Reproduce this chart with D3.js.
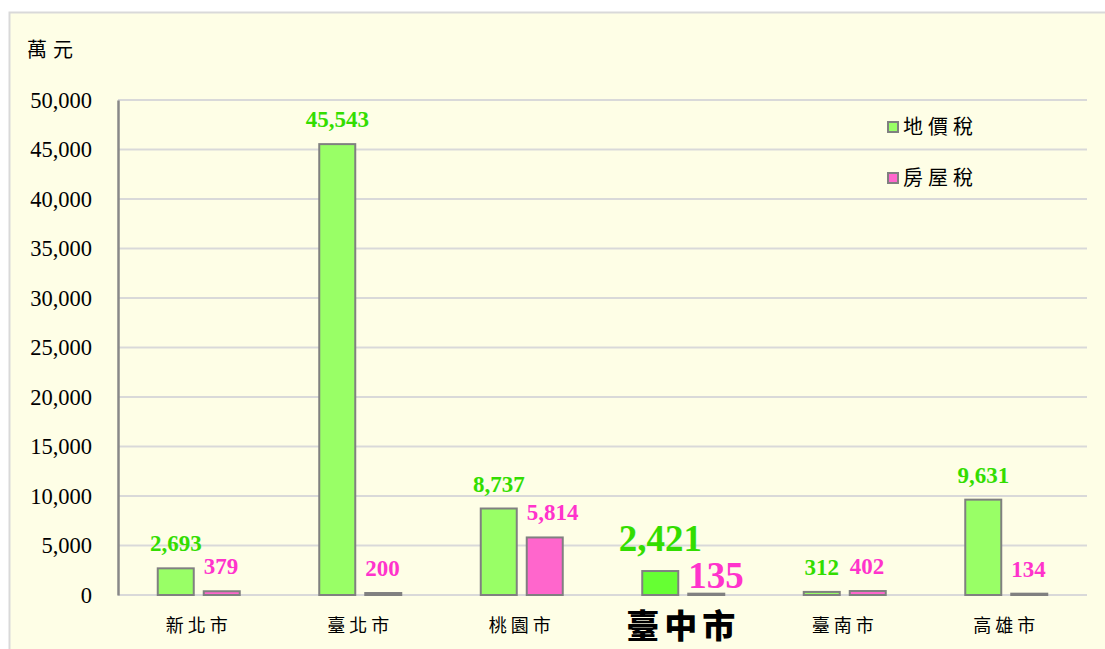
<!DOCTYPE html>
<html><head><meta charset="utf-8">
<script src="https://cdn.jsdelivr.net/npm/d3@7"></script>
<style>body{margin:0;background:#fff;} svg{display:block;}</style>
</head><body>
<svg id="c" width="1105" height="649"></svg>
<script>
const categories = ["新北市","臺北市","桃園市","臺中市","臺南市","高雄市"];
const landTax = [2693,45543,8737,2421,312,9631];
const houseTax = [379,200,5814,135,402,134];
const seriesNames = ["地價稅","房屋稅"];
const yTicks = [0,5000,10000,15000,20000,25000,30000,35000,40000,45000,50000];
const highlight = "臺中市";

const svg = d3.select("#c");
const m={left:118,right:1087,top:100,bottom:595};
const serif='"Liberation Serif","Times New Roman",serif';
const cjk='"Noto Sans CJK TC","Noto Sans CJK SC",sans-serif';

svg.append("rect").attr("x",9.5).attr("y",12.5).attr("width",1100).attr("height",640)
  .attr("fill","#fefee6").attr("stroke","#d9d9d9").attr("stroke-width",2);

const x=d3.scaleBand().domain(categories).range([m.left,m.right]);
const y=d3.scaleLinear().domain([0,50000]).range([m.bottom,m.top]);

// grid
svg.append("g").selectAll("line").data(yTicks).join("line")
  .attr("x1",m.left).attr("x2",m.right).attr("y1",d=>y(d)).attr("y2",d=>y(d))
  .attr("stroke","#d9d9d9").attr("stroke-width",2);

// y axis
const ya=svg.append("g").attr("transform",`translate(${m.left},0)`)
  .call(d3.axisLeft(y).tickValues(yTicks).tickFormat(d3.format(",")).tickSize(0).tickPadding(26));
ya.select(".domain").attr("stroke","#888").attr("stroke-width",2.5);
ya.selectAll("text").attr("font-family",serif).attr("font-size",22.5).attr("fill","#000");

svg.append("text").attr("x",27).attr("y",57).text("萬元").attr("font-family",cjk)
  .attr("font-size",20).attr("letter-spacing",6).attr("fill","#000");

// x axis labels
const xa=svg.append("g").attr("transform",`translate(0,${m.bottom})`)
  .call(d3.axisBottom(x).tickSize(0).tickPadding(0));
xa.select(".domain").remove();
xa.selectAll("text").attr("font-family",cjk).attr("fill","#000")
  .attr("font-size",d=>d===highlight?33:18)
  .attr("font-weight",d=>d===highlight?900:400)
  .attr("letter-spacing",d=>d===highlight?5:4)
  .attr("dy",null)
  .attr("y",d=>d===highlight?43:37);

const bw=36, off=5;
const gx=c=>x(c)+x.bandwidth()/2-off-bw;
const px=c=>x(c)+x.bandwidth()/2+off;

const g=svg.append("g");
g.selectAll("rect.g").data(categories).join("rect")
  .attr("x",c=>gx(c)).attr("width",bw)
  .attr("y",(c,i)=>y(landTax[i])).attr("height",(c,i)=>y(0)-y(landTax[i]))
  .attr("fill",c=>c===highlight?"#66ff33":"#99ff66").attr("stroke","#808080").attr("stroke-width",2);
g.selectAll("rect.p").data(categories).join("rect")
  .attr("x",c=>px(c)).attr("width",bw)
  .attr("y",(c,i)=>y(houseTax[i])).attr("height",(c,i)=>y(0)-y(houseTax[i]))
  .attr("fill","#ff66cc").attr("stroke","#808080").attr("stroke-width",2);

// value labels
const fmt=d3.format(",");
g.selectAll("text.g").data(categories).join("text")
  .attr("x",c=>gx(c)+bw/2).attr("y",(c,i)=>y(landTax[i])-(c===highlight?20:17))
  .attr("text-anchor","middle").attr("font-family",serif).attr("font-weight","bold")
  .attr("font-size",c=>c===highlight?37:23).attr("fill","#33dd00")
  .text((c,i)=>fmt(landTax[i]));
g.selectAll("text.p").data(categories).join("text")
  .attr("x",c=>px(c)).attr("y",(c,i)=>y(houseTax[i])-(c===highlight?6:17))
  .attr("text-anchor","start").attr("font-family",serif).attr("font-weight","bold")
  .attr("font-size",c=>c===highlight?37:23).attr("fill","#ff33cc")
  .text((c,i)=>fmt(houseTax[i]));

// legend
const colors=["#99ff66","#ff66cc"];
const lg=svg.append("g");
seriesNames.forEach((n,i)=>{
  const yy=127+i*51;
  lg.append("rect").attr("x",888).attr("y",yy-5).attr("width",10).attr("height",10)
    .attr("fill",colors[i]).attr("stroke","#808080").attr("stroke-width",2);
  lg.append("text").attr("x",903).attr("y",yy+7).text(n).attr("font-family",cjk)
    .attr("font-size",20).attr("letter-spacing",5).attr("fill","#000");
});
</script>
</body></html>
